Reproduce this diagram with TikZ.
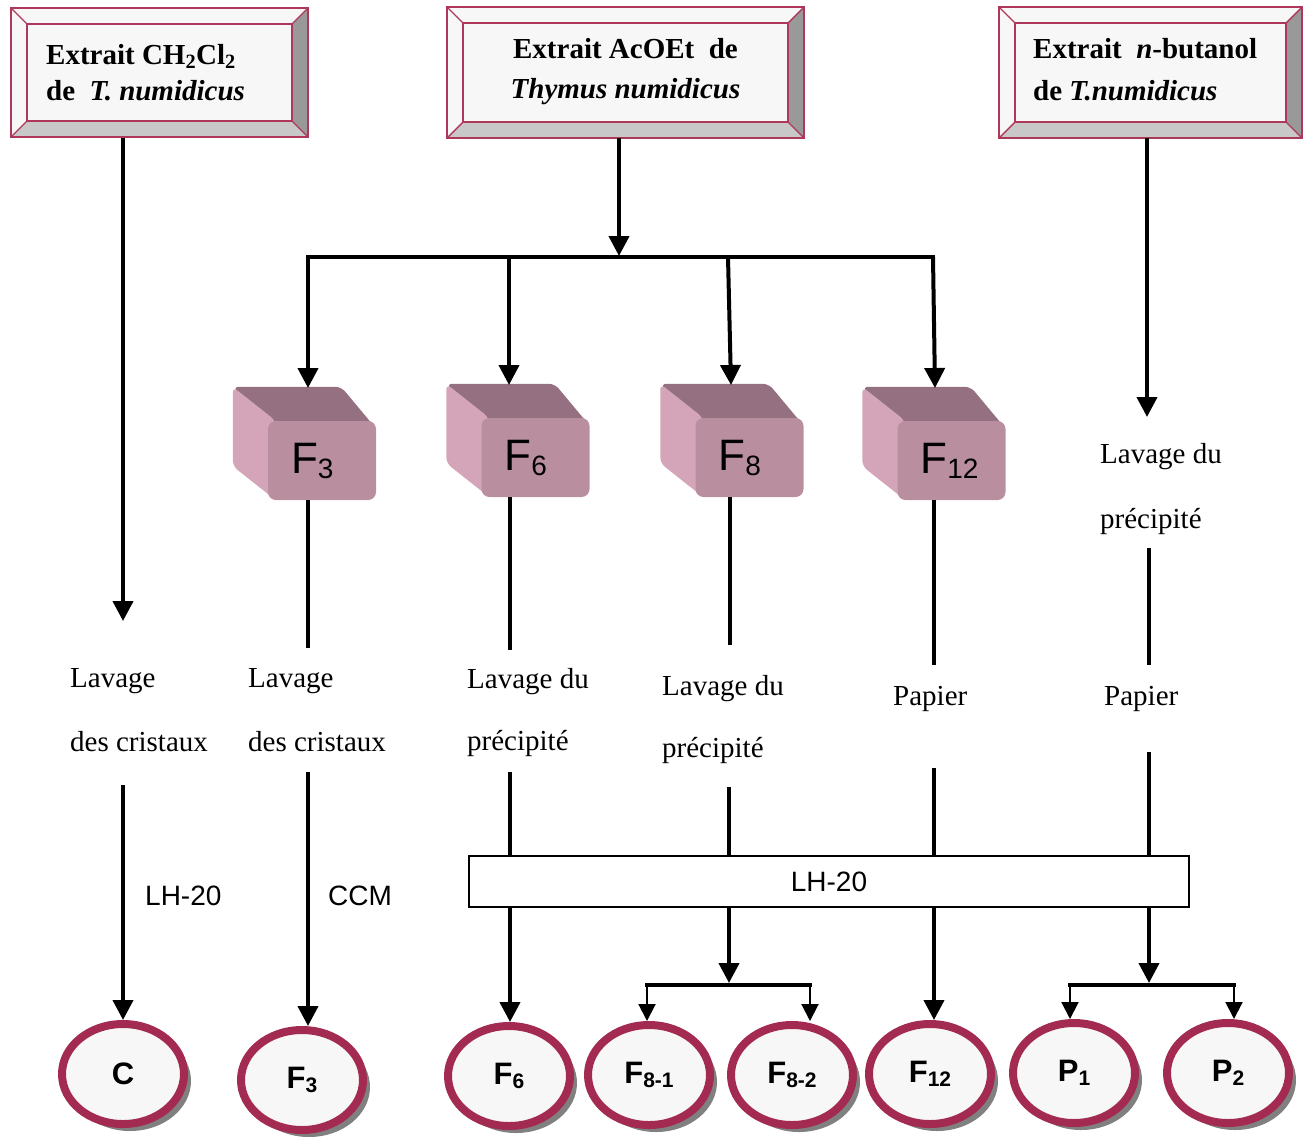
\documentclass[tikz,border=0pt]{standalone}
\usepackage{fontspec}
\setmainfont{Liberation Serif}
\setsansfont{Liberation Sans}
\usetikzlibrary{arrows.meta,shapes.geometric,shadows,backgrounds,calc}

\definecolor{crim}{RGB}{163,43,82}
\definecolor{boxline}{RGB}{175,55,90}
\definecolor{bevelB}{RGB}{200,200,200}
\definecolor{bevelR}{RGB}{153,153,153}
\definecolor{paper}{RGB}{247,247,247}
\definecolor{cubeF}{RGB}{185,143,160}
\definecolor{cubeT}{RGB}{148,112,128}
\definecolor{cubeL}{RGB}{212,165,184}

\newcommand\bevelframe[1]{%
  \begin{scope}[on background layer]
    \fill[paper] ($(#1.north west)+(-15.5,-15.5)$) rectangle ($(#1.south east)+(15.5,15.5)$);
    \fill[bevelB] ($(#1.south west)+(-15.5,15.5)$) -- ($(#1.south east)+(15.5,15.5)$) -- (#1.south east) -- (#1.south west) -- cycle;
    \fill[bevelR] ($(#1.north east)+(15.5,-15.5)$) -- ($(#1.south east)+(15.5,15.5)$) -- (#1.south east) -- (#1.north east) -- cycle;
  \end{scope}
  \draw[boxline, line width=1.8pt] ($(#1.north west)+(-15.5,-15.5)$) rectangle ($(#1.south east)+(15.5,15.5)$);
  \draw[boxline, line width=1.4pt] (#1.north west) -- ++(-15.5,-15.5) (#1.north east) -- ++(15.5,-15.5)
     (#1.south west) -- ++(-15.5,15.5) (#1.south east) -- ++(15.5,15.5);
}

\newcommand\cubefaces[1]{%
  \begin{scope}[on background layer]
    \fill[cubeT, rounded corners=6pt] ($(#1.north west)+(-35,-34)$) -- ($(#1.north east)+(-35,-34)$) -- ($(#1.north east)+(0,8)$) -- ($(#1.north west)+(0,8)$) -- cycle;
    \fill[cubeL, rounded corners=6pt] ($(#1.north west)+(-35,-34)$) -- ($(#1.north west)+(8,0)$) -- ($(#1.south west)+(8,0)$) -- ($(#1.south west)+(-35,-34)$) -- cycle;
  \end{scope}
}
\newcommand\cubetext[2]{\makebox[108pt][l]{\hspace*{23pt}#1\raisebox{-5pt}{\fontsize{28}{28}\selectfont #2}}}
\newcommand\restext[2]{#1\raisebox{-4pt}{\fontsize{21}{21}\selectfont #2}}

\begin{document}
\begin{tikzpicture}[x=1pt,y=-1pt,
  frame/.style={draw=boxline, line width=1.4pt, fill=paper, inner sep=0, rectangle},
  ttl/.style={font=\fontsize{29}{29}\selectfont\bfseries, inner sep=0, anchor=base west},
  lbl/.style={font=\fontsize{29}{29}\selectfont, inner sep=0, anchor=base west},
  slbl/.style={font=\sffamily\fontsize{28}{28}\selectfont, inner sep=0, anchor=base west},
  main/.style={line width=4pt},
  arr/.style={line width=4pt, -{Triangle[width=20pt,length=20pt]}},
  tarr/.style={line width=2pt, -{Triangle[width=17pt,length=17pt]}},
  cube/.style={rectangle, rounded corners=8pt, fill=cubeF, minimum width=108pt, minimum height=79pt, inner sep=0, font=\sffamily\fontsize{44}{44}\selectfont},
  res/.style={ellipse, draw=crim, line width=8pt, fill=paper, minimum width=122pt, minimum height=100pt, inner sep=0, font=\sffamily\bfseries\fontsize{31}{31}\selectfont, drop shadow={shadow xshift=7pt, shadow yshift=-7pt, fill=black!50, opacity=1}},
]
\useasboundingbox (0,0) rectangle (1304,1136);

% ---- top boxes ----
\node[frame, minimum width=265pt, minimum height=97pt] (box1) at (159.5,72.5) {};
\bevelframe{box1}
\node[ttl] (box1a) at (46,64) {Extrait CH\textsubscript{2}Cl\textsubscript{2}};
\node[ttl] (box1b) at (46,100) {de~~\textit{T. numidicus}};

\node[frame, minimum width=325pt, minimum height=99pt] (box2) at (625.5,72.5) {};
\bevelframe{box2}
\node[ttl, anchor=base] (box2a) at (625.5,58) {Extrait AcOEt~~de};
\node[ttl, anchor=base] (box2b) at (625.5,98) {\itshape Thymus numidicus};

\node[frame, minimum width=271pt, minimum height=99pt] (box3) at (1150.5,72.5) {};
\bevelframe{box3}
\node[ttl] (box3a) at (1033,58) {Extrait~~\textit{n}-butanol};
\node[ttl] (box3b) at (1033,100) {de \textit{T.numidicus}};

% ---- coordinates ----
\coordinate (b1s) at (123,138);
\coordinate (l1t) at (123,621);
\coordinate (l1b) at (123,785);
\coordinate (b2s) at (619,138);
\coordinate (j2) at (619,256);
\coordinate (h3) at (308,257);
\coordinate (h6) at (509,257);
\coordinate (h8) at (728,257);
\coordinate (h12) at (933,257);
\coordinate (f3top) at (308,388);
\coordinate (f6top) at (509,385);
\coordinate (f8top) at (731,385);
\coordinate (f12top) at (935,388);
\coordinate (b3s) at (1147,138);
\coordinate (p6top) at (1147,417);

% ---- cubes ----
\node[cube] (f3) at (322,460.5) {\cubetext{F}{3}};
\cubefaces{f3}
\node[cube] (f6) at (535.5,457.5) {\cubetext{F}{6}};
\cubefaces{f6}
\node[cube] (f8) at (749.5,457.5) {\cubetext{F}{8}};
\cubefaces{f8}
\node[cube] (f12) at (951.5,460.5) {\cubetext{F}{12}};
\cubefaces{f12}

% ---- labels ----
\node[lbl] (t1a) at (70,687) {Lavage};
\node[lbl] (t1b) at (70,751) {des cristaux};
\node[lbl] (t2a) at (248,687) {Lavage};
\node[lbl] (t2b) at (248,751) {des cristaux};
\node[lbl] (t3a) at (467,688) {Lavage du};
\node[lbl] (t3b) at (467,750) {précipité};
\node[lbl] (t4a) at (662,695) {Lavage du};
\node[lbl] (t4b) at (662,757) {précipité};
\node[lbl] (t5a) at (893,705) {Papier};
\node[lbl] (t6a) at (1100,463) {Lavage du};
\node[lbl] (t6b) at (1100,528) {précipité};
\node[lbl] (t6c) at (1104,705) {Papier};
\node[slbl] (lh1) at (145,905) {LH-20};
\node[slbl] (ccm) at (328,905) {CCM};

% ---- result ellipses ----
\node[res] (cC) at (123,1074) {C};
\node[res] (cF3) at (302,1080) {\restext{F}{3}};
\node[res] (cF6) at (509,1076) {\restext{F}{6}};
\node[res] (cF81) at (649,1075) {\restext{F}{8-1}};
\node[res] (cF82) at (792,1075) {\restext{F}{8-2}};
\node[res] (cF12) at (930,1074) {\restext{F}{12}};
\node[res] (cP1) at (1074,1073) {\restext{P}{1}};
\node[res] (cP2) at (1228,1073) {\restext{P}{2}};

% ---- connectors ----
\draw[arr] (b1s) -- (l1t);
\draw[arr] (l1b) -- (cC.north);

\draw[arr] (b2s) -- (j2);
\draw[main, line cap=rect] (h3) -- (h12);
\draw[arr] (h3) -- (f3top);
\draw[arr] (h6) -- (f6top);
\draw[arr] (h8) -- (f8top);
\draw[arr] (h12) -- (f12top);
\draw[arr] (b3s) -- (p6top);

\coordinate (l2t) at (308,648);
\coordinate (l2b) at (308,772);
\draw[main] (f3.south -| l2t) -- (l2t);
\draw[arr] (l2b) -- (l2b |- cF3.north);

\coordinate (l3t) at (510,650);
\coordinate (l3b) at (510,772);
\draw[main] (f6.south -| l3t) -- (l3t);
\draw[arr] (l3b) -- (l3b |- cF6.north);

\coordinate (l4t) at (730,645);
\coordinate (l4b) at (729,787);
\coordinate (s8) at (729,983);
\coordinate (s8a) at (647,985);
\coordinate (s8b) at (810,985);
\draw[main] (f8.south -| l4t) -- (l4t);
\draw[arr] (l4b) -- (s8);
\draw[main, line cap=rect] (s8a) -- (s8b);
\draw[tarr] (s8a) -- (s8a |- cF81.north);
\draw[tarr] (s8b) -- (s8b |- cF82.north);

\coordinate (l5t) at (934,665);
\coordinate (l5b) at (934,768);
\draw[main] (f12.south -| l5t) -- (l5t);
\draw[arr] (l5b) -- (l5b |- cF12.north);

\coordinate (l6t) at (1149,548);
\coordinate (l6m) at (1149,665);
\coordinate (l6b) at (1149,752);
\coordinate (sP) at (1149,983);
\coordinate (sPa) at (1070,985);
\coordinate (sPb) at (1234,985);
\draw[main] (l6t) -- (l6m);
\draw[arr] (l6b) -- (sP);
\draw[main, line cap=rect] (sPa) -- (sPb);
\draw[tarr] (sPa) -- (sPa |- cP1.north);
\draw[tarr] (sPb) -- (sPb |- cP2.north);

% ---- LH-20 band ----
\node[draw=black, line width=1.2pt, fill=white, minimum width=720pt, minimum height=51pt, inner sep=0, font=\sffamily\fontsize{28}{28}\selectfont] (lh2) at (829,881.5) {LH-20};
\end{tikzpicture}
\end{document}
